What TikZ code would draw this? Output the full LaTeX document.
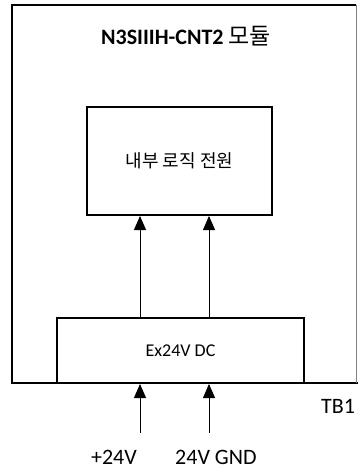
\documentclass[tikz,border=0pt]{standalone}
\usepackage{fontspec}
\setmainfont{Carlito}
\newfontfamily\krfont{Noto Sans CJK KR}
\usetikzlibrary{arrows.meta}
\usetikzlibrary{positioning}

\tikzset{
    blockbox/.style={draw, line width=2pt, rectangle, inner sep=0pt},
    feedarrow/.style={line width=1pt, -{Triangle[length=14pt,width=12pt]}},
    labeltext/.style={inner sep=0pt, font=\fontsize{22}{26}\selectfont}
}

\begin{document}
\begin{tikzpicture}[x=1pt,y=-1pt]
            \useasboundingbox (0,0) rectangle (358,470);
            %module frame
            \draw [line width=2pt] (356,5) -- (12,5) -- (12,383) -- (358,383);
            \draw [gray, line width=0.8pt] (356,5) -- (356,383);
            \node [labeltext, anchor=base] (title) at (186,45) {\textbf{N3SIIIH-CNT2} {\krfont\fontsize{23}{26}\selectfont 모듈}};
            %
            %blocks
            \node [blockbox, minimum width=185pt, minimum height=108pt] (logic) at (179.5,161)
                {\krfont\fontsize{18}{22}\selectfont 내부 로직 전원};
            \node [blockbox, minimum width=247pt, minimum height=65pt] (ex24) at (180.5,350.5)
                {\fontsize{18}{22}\selectfont Ex24V DC};
            %
            %supply inputs
            \coordinate (pplus) at (140,433);
            \coordinate (pgnd) at (209,433);
            \draw [feedarrow] (pplus) -- (pplus |- ex24.south);
            \draw [feedarrow] (pgnd) -- (pgnd |- ex24.south);
            \draw [feedarrow] (pplus |- ex24.north) -- (pplus |- logic.south);
            \draw [feedarrow] (pgnd |- ex24.north) -- (pgnd |- logic.south);
            \node [labeltext, anchor=base east] (plus) at (137,464) {+24V};
            \node [labeltext, anchor=base west] (gnd) at (175,464) {24V GND};
            \node [labeltext, anchor=base west] (tb) at (321,413) {TB1};
            %
        \end{tikzpicture}
\end{document}
